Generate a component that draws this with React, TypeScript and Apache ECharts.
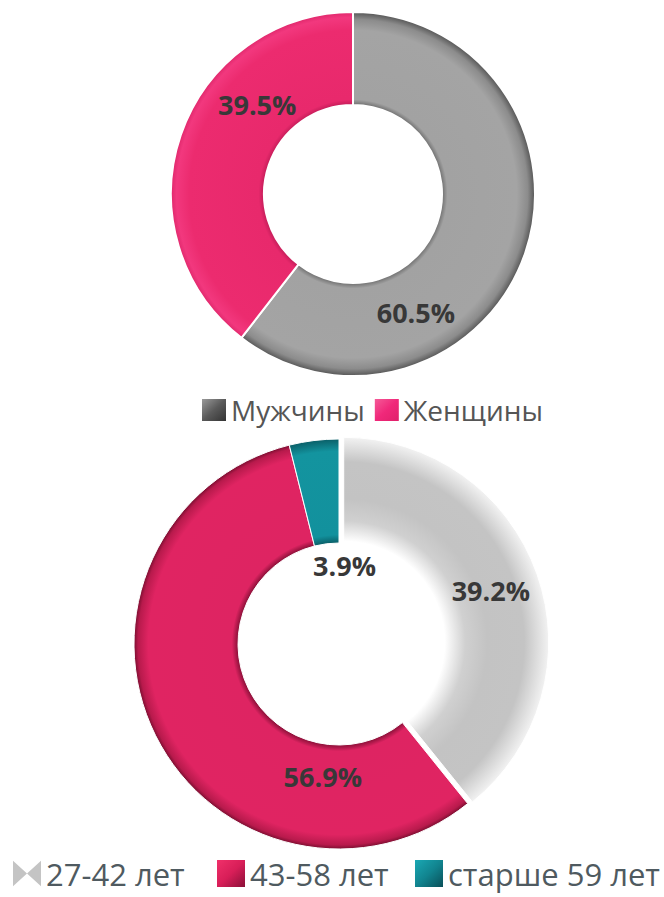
import React, { useEffect, useRef } from "react";
import * as echarts from "echarts";

// ---- data ----
const genderNames = ["Мужчины", "Женщины"];
const genderValues = [60.5, 39.5];

const ageNames = ["27-42 лет", "43-58 лет", "старше 59 лет"];
const ageValues = [39.2, 56.9, 3.9];

// ---- label spots (angle clockwise from top in degrees, distance from centre in px) ----
const genderLabelSpots = [
  [152, 134],
  [313, 131],
];
const ageLabelSpots = [
  [71, 159],
  [187, 133],
  [4, 79],
];

const TOP_C = [353, 194];
const TOP_R = [89, 182];
const BOT_C = [339, 644];
const BOT_R = [101, 205];

const AGE_LEGEND_LEFT = [8, 212, 410];

const FONT = "'Open Sans', 'Noto Sans', sans-serif";

function radial(c: number[], r: number, stops: [number, string][]) {
  return {
    type: "radial",
    x: c[0],
    y: c[1],
    r,
    global: true,
    colorStops: stops.map(([offset, color]) => ({ offset, color })),
  };
}

function linear(stops: [number, string][]) {
  return {
    type: "linear",
    x: 0,
    y: 0,
    x2: 1,
    y2: 1,
    colorStops: stops.map(([offset, color]) => ({ offset, color })),
  };
}

function spotLayout(center: number[], spots: number[][]) {
  return (params: any) => {
    const s = spots[params.dataIndex];
    if (!s) return {};
    const a = (s[0] * Math.PI) / 180;
    return {
      x: center[0] + s[1] * Math.sin(a),
      y: center[1] - s[1] * Math.cos(a),
      align: "center",
      verticalAlign: "middle",
    };
  };
}

const topInner = TOP_R[0] / TOP_R[1];
const botInner = BOT_R[0] / BOT_R[1];

const genderColors = [
  radial(TOP_C, TOP_R[1], [
    [topInner, "#6e6e6e"],
    [topInner + 0.03, "#a2a2a2"],
    [0.9, "#a4a4a4"],
    [0.96, "#8c8c8c"],
    [1, "#555555"],
  ]),
  radial(TOP_C, TOP_R[1], [
    [topInner, "#c21c58"],
    [topInner + 0.03, "#e8296c"],
    [0.9, "#ec2b6f"],
    [0.97, "#f2387e"],
    [1, "#e0286c"],
  ]),
];

const ageColors = [
  radial(BOT_C, BOT_R[1], [
    [botInner, "#ffffff"],
    [botInner + 0.1, "#d0d0d0"],
    [0.7, "#c3c3c3"],
    [0.88, "#c4c4c4"],
    [1, "#f2f2f2"],
  ]),
  radial(BOT_C, BOT_R[1], [
    [botInner, "#8a1038"],
    [botInner + 0.03, "#de2462"],
    [0.93, "#e02462"],
    [0.98, "#b81a4c"],
    [1, "#7a0e30"],
  ]),
  radial(BOT_C, BOT_R[1], [
    [botInner, "#0a5f68"],
    [botInner + 0.04, "#12919d"],
    [0.94, "#13949f"],
    [1, "#0a5f68"],
  ]),
];

const genderLegendColors = [
  linear([
    [0, "#9a9a9a"],
    [0.5, "#5a5a5a"],
    [1, "#333333"],
  ]),
  linear([
    [0, "#f55a98"],
    [0.5, "#f0287a"],
    [1, "#e0206a"],
  ]),
];

const ageLegendColors = [
  "#c4c4c4",
  linear([
    [0, "#f0306a"],
    [0.5, "#d81e58"],
    [1, "#8a1038"],
  ]),
  linear([
    [0, "#1aa8b4"],
    [0.5, "#11848f"],
    [1, "#0a4f58"],
  ]),
];

const BOWTIE = "path://M0,0L12,11L0,22L0,0ZM24,0L24,22L12,11L24,0Z";

export default function App() {
  const ref = useRef<HTMLDivElement>(null);

  useEffect(() => {
    document.body.style.margin = "0";
    if (!ref.current) return;
    const chart = echarts.init(ref.current, null, { renderer: "svg" });

    const labelStyle = {
      show: true,
      position: "inside",
      fontFamily: FONT,
      fontWeight: "bold",
      fontSize: 27,
      color: "#383838",
      formatter: (p: any) => `${Number(p.value).toFixed(1)}%`,
    };

    const ageLegends = ageNames.map((n, i) => ({
      left: AGE_LEGEND_LEFT[i],
      top: 853,
      orient: "horizontal",
      itemWidth: 28,
      itemHeight: 27,
      selectedMode: false,
      textStyle: { fontFamily: FONT, fontSize: 31, color: "#4f5a60" },
      data: [
        {
          name: n,
          icon: i === 0 ? BOWTIE : "rect",
          itemStyle: { color: ageLegendColors[i], borderWidth: 0 },
        },
      ],
    }));

    chart.setOption({
      animation: false,
      backgroundColor: "#ffffff",
      legend: [
        {
          left: 197,
          top: 391,
          orient: "horizontal",
          itemWidth: 24,
          itemHeight: 22,
          itemGap: 10,
          selectedMode: false,
          textStyle: { fontFamily: FONT, fontSize: 28, color: "#555555" },
          data: genderNames.map((n, i) => ({
            name: n,
            icon: "rect",
            itemStyle: { color: genderLegendColors[i], borderWidth: 0 },
          })),
        },
        ...ageLegends,
      ],
      series: [
        {
          type: "pie",
          center: TOP_C,
          radius: TOP_R,
          startAngle: 90,
          clockwise: true,
          avoidLabelOverlap: false,
          emphasis: { disabled: true },
          itemStyle: { borderColor: "#ffffff", borderWidth: 2 },
          label: labelStyle,
          labelLine: { show: false },
          labelLayout: spotLayout(TOP_C, genderLabelSpots),
          data: genderNames.map((n, i) => ({
            name: n,
            value: genderValues[i],
            itemStyle: { color: genderColors[i] },
          })),
        },
        {
          type: "pie",
          center: BOT_C,
          radius: BOT_R,
          startAngle: 90,
          clockwise: true,
          avoidLabelOverlap: false,
          selectedMode: "single",
          selectedOffset: 5,
          emphasis: { disabled: true },
          itemStyle: { borderColor: "#ffffff", borderWidth: 1 },
          label: labelStyle,
          labelLine: { show: false },
          labelLayout: spotLayout(BOT_C, ageLabelSpots),
          data: ageNames.map((n, i) => ({
            name: n,
            value: ageValues[i],
            selected: i === 0,
            itemStyle: { color: ageColors[i] },
          })),
        },
      ],
    });

    return () => chart.dispose();
  }, []);

  return <div ref={ref} style={{ width: 664, height: 897 }} />;
}
